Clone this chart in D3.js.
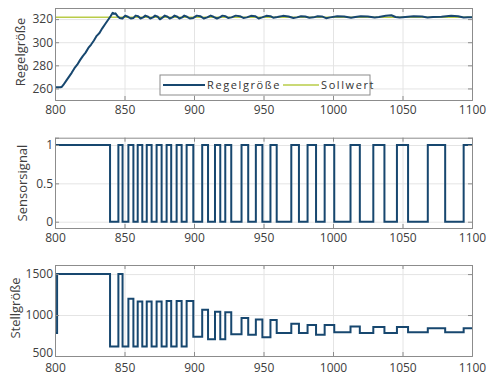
<!DOCTYPE html>
<html>
<head>
<meta charset="utf-8">
<script src="https://cdn.jsdelivr.net/npm/d3@7"></script>
<style>
body { margin: 0; background: #fff; }
svg { display: block; font-family: "Open Sans", sans-serif; }
.grid line { stroke: #e4e4e4; stroke-width: 1; }
.grid path { display: none; }
.axis path, .axis line { stroke: #8c8c8c; }
.axis text { fill: #404040; font-size: 12px; font-family: "Open Sans", sans-serif; }
.label { fill: #404040; font-size: 13px; }
.legend text { fill: #333; font-size: 11px; letter-spacing: 1.6px; }
</style>
</head>
<body>
<div id="chart"></div>
<script>
// data
var xTicks = [800, 850, 900, 950, 1000, 1050, 1100];
var regelTicks = [260, 280, 300, 320];
var sensorTicks = [0, 0.5, 1];
var stellTicks = [500, 1000, 1500];

var regelZeit = [800, 804, 805, 806, 808, 810, 812, 814, 816, 818, 820, 822, 824, 826, 828, 830, 832, 834, 836, 838, 840,
    841.5, 842.5, 843.5, 845, 846.5, 848.5, 850.5, 852.5, 854.5, 856.5, 858, 859.8, 861.5, 863.5, 865, 867, 868.5, 870.5,
    872, 874, 875.5, 877.5, 879, 881, 882.5, 884.5, 886, 888, 889.5, 891.5, 893, 895, 897, 899.5, 902, 904.5, 907, 909.5,
    912, 914, 916.5, 918.5, 920.5, 922.5, 924.5, 927, 930, 933, 935.5, 938, 941, 944, 946.5, 949, 952, 955, 957, 960,
    964, 968, 971.5, 974, 977, 980, 983, 986, 989, 992, 995, 998, 1003, 1008, 1013, 1016, 1020, 1025, 1030, 1033,
    1038, 1042, 1045, 1048, 1052, 1058, 1064, 1068, 1072, 1078, 1085, 1090, 1094, 1097, 1100];
var regelWert = [261, 261, 261.5, 263, 266.5, 270, 273.5, 277.5, 280.5, 284.5, 288, 291, 295, 298, 301.5, 305.5, 308, 312, 315.5, 319, 322.5,
    325.5, 324.5, 325, 322.5, 321, 320.5, 323, 322, 320.5, 321, 323, 322.5, 320.5, 321.5, 323, 322, 320.5, 321.5,
    323, 322, 319.8, 321.5, 323, 322, 320.5, 321.5, 323, 322, 320.5, 321.5, 323, 322, 320.5, 321, 323, 322.5, 320.5, 321.5,
    323, 322, 320.5, 321.5, 323, 322.5, 321, 321.5, 323, 322.5, 321, 321.5, 322.8, 322.5, 320.5, 321.5, 322.8, 322.5, 321.2, 321.8,
    322.8, 322.3, 321, 321.5, 322.5, 322.3, 321.2, 321.5, 322.5, 322.3, 320.8, 321.5, 322.5, 322.3, 321.2, 321.8, 322.5, 322.3, 321.3, 321.8,
    322.8, 323.3, 321.8, 321.3, 321.8, 322.5, 322.2, 321.3, 321.8, 322, 322.8, 322.5, 321.3, 321.5, 321.5];

var sollZeit = [800, 1100];
var sollWert = [321.5, 321.5];

var sensorZeit = [800, 839.6, 845.6, 848.6, 852.8, 856.4, 859.5, 862.8, 866, 869.5, 873.1, 876.7, 880.3, 883.6, 887.5,
    891.1, 894.7, 899.5, 905.9, 910.1, 915.1, 918.9, 922.5, 926.8, 934.2, 939, 944.5, 949.2, 955, 959.5, 970, 975.5,
    981.7, 987.8, 994, 1000.9, 1012.6, 1019.3, 1029, 1037, 1046, 1054, 1068.2, 1080.7, 1094, 1100];
var sensorWert = [1, 0, 1, 0, 1, 0, 1, 0, 1, 0, 1, 0, 1, 0, 1, 0, 1, 0, 1, 0, 1, 0, 1, 0, 1, 0, 1, 0, 1, 0,
    1, 0, 1, 0, 1, 0, 1, 0, 1, 0, 1, 0, 1, 0, 1, 1];

var stellZeit = [800, 801.5, 839.6, 845.6, 848.6, 852.8, 856.4, 859.5, 862.8, 866, 869.5, 873.1, 876.7, 880.3, 883.6, 887.5,
    891.1, 894.7, 899.5, 905.9, 910.1, 915.1, 918.9, 922.5, 926.8, 934.2, 939, 944.5, 949.2, 955, 959.5, 970, 975.5,
    981.7, 987.8, 994, 1000.9, 1012.6, 1019.3, 1029, 1037, 1046, 1054, 1068.2, 1080.7, 1094, 1100];
var stellWert = [780, 1500, 615, 1500, 615, 1200, 615, 1165, 615, 1165, 615, 1165, 615, 1170, 615, 1170, 615, 1170,
    735, 1065, 705, 1040, 705, 1035, 765, 965, 760, 945, 730, 940, 780, 895, 780, 880, 760, 880, 790, 860, 780, 855,
    780, 855, 790, 840, 790, 840, 840];

var blau = "#17476f", gruen = "#b9cc48";

var W = 489, H = 376;
var left = 55, right = 472;

var svg = d3.select("#chart").append("svg")
    .attr("width", W)
    .attr("height", H);

var x = d3.scaleLinear().domain([800, 1100]).range([left, right]);

function panel(top, bottom, domain, ticks) {
    var y = d3.scaleLinear().domain(domain).range([bottom, top]);
    var g = svg.append("g");
    var h = bottom - top, w = right - left;

    // grid
    g.append("g").attr("class", "grid")
        .attr("transform", "translate(0," + bottom + ")")
        .call(d3.axisBottom(x).tickValues(xTicks).tickSize(-h).tickFormat(""));
    g.append("g").attr("class", "grid")
        .attr("transform", "translate(" + left + ",0)")
        .call(d3.axisLeft(y).tickValues(ticks).tickSize(-w).tickFormat(""));

    return {y: y, g: g, top: top, bottom: bottom};
}

function axes(p, ticks, pad) {
    var y = p.y, g = p.g;
    g.append("g").attr("class", "axis")
        .attr("transform", "translate(0," + p.bottom + ")")
        .call(d3.axisBottom(x).tickValues(xTicks).tickSize(-4).tickPadding(pad).tickFormat(d => d));
    g.append("g").attr("class", "axis")
        .attr("transform", "translate(0," + p.top + ")")
        .call(d3.axisTop(x).tickValues(xTicks).tickSize(-4).tickFormat(""));
    var ya = g.append("g").attr("class", "axis")
        .attr("transform", "translate(" + left + ",0)")
        .call(d3.axisLeft(y).tickValues(ticks).tickSize(-4).tickPadding(2).tickFormat(d => d));
    g.append("g").attr("class", "axis")
        .attr("transform", "translate(" + right + ",0)")
        .call(d3.axisRight(y).tickValues(ticks).tickSize(-4).tickFormat(""));
    return ya;
}

function ylabel(text, px, py) {
    svg.append("text")
        .attr("class", "label")
        .attr("transform", "translate(" + px + "," + py + ") rotate(-90)")
        .attr("text-anchor", "middle")
        .attr("dy", "0.35em")
        .text(text);
}

// top: Regelgröße + Sollwert
var p1 = panel(8, 100, [250, 329.6], regelTicks);
var line1 = d3.line().x(d => x(d[0])).y(d => p1.y(d[1]));
p1.g.append("path")
    .datum(sollZeit.map((t, i) => [t, sollWert[i]]))
    .attr("fill", "none").attr("stroke", gruen).attr("stroke-width", 1.5)
    .attr("d", line1);
p1.g.append("path")
    .datum(regelZeit.map((t, i) => [t, regelWert[i]]))
    .attr("fill", "none").attr("stroke", blau).attr("stroke-width", 2)
    .attr("stroke-linejoin", "round")
    .attr("d", line1);
axes(p1, regelTicks, 5);

// legend
var leg = svg.append("g").attr("class", "legend");
leg.append("rect")
    .attr("x", 160).attr("y", 75).attr("width", 210).attr("height", 20)
    .attr("fill", "#fff").attr("stroke", "#8c8c8c");
leg.append("line").attr("x1", 163).attr("x2", 205).attr("y1", 85).attr("y2", 85)
    .attr("stroke", blau).attr("stroke-width", 2);
leg.append("text").attr("x", 207).attr("y", 85).attr("dy", "0.35em").text("Regelgröße");
leg.append("line").attr("x1", 283).attr("x2", 319).attr("y1", 85).attr("y2", 85)
    .attr("stroke", gruen).attr("stroke-width", 1.5);
leg.append("text").attr("x", 321).attr("y", 85).attr("dy", "0.35em").text("Sollwert");

// middle: Sensorsignal
var p2 = panel(137.7, 228, [-0.082, 1.095], sensorTicks);
p2.g.append("path")
    .datum(sensorZeit.map((t, i) => [t, sensorWert[i]]))
    .attr("fill", "none").attr("stroke", blau).attr("stroke-width", 2)
    .attr("d", d3.line().curve(d3.curveStepAfter).x(d => x(d[0])).y(d => p2.y(d[1])));
axes(p2, sensorTicks, 5);

// bottom: Stellgröße
var p3 = panel(265, 356, [500, 1611], stellTicks);
p3.g.append("path")
    .datum(stellZeit.map((t, i) => [t, stellWert[i]]))
    .attr("fill", "none").attr("stroke", blau).attr("stroke-width", 2)
    .attr("d", d3.line().curve(d3.curveStepAfter).x(d => x(d[0])).y(d => p3.y(d[1])));
var ya3 = axes(p3, stellTicks, 7);
// lift the lowest label a bit so it clears the 800 below it
ya3.selectAll(".tick text").filter(d => d === 500).attr("dy", "0.05em");

ylabel("Regelgröße", 20, 52);
ylabel("Sensorsignal", 22, 183);
ylabel("Stellgröße", 15, 308);
</script>
</body>
</html>
